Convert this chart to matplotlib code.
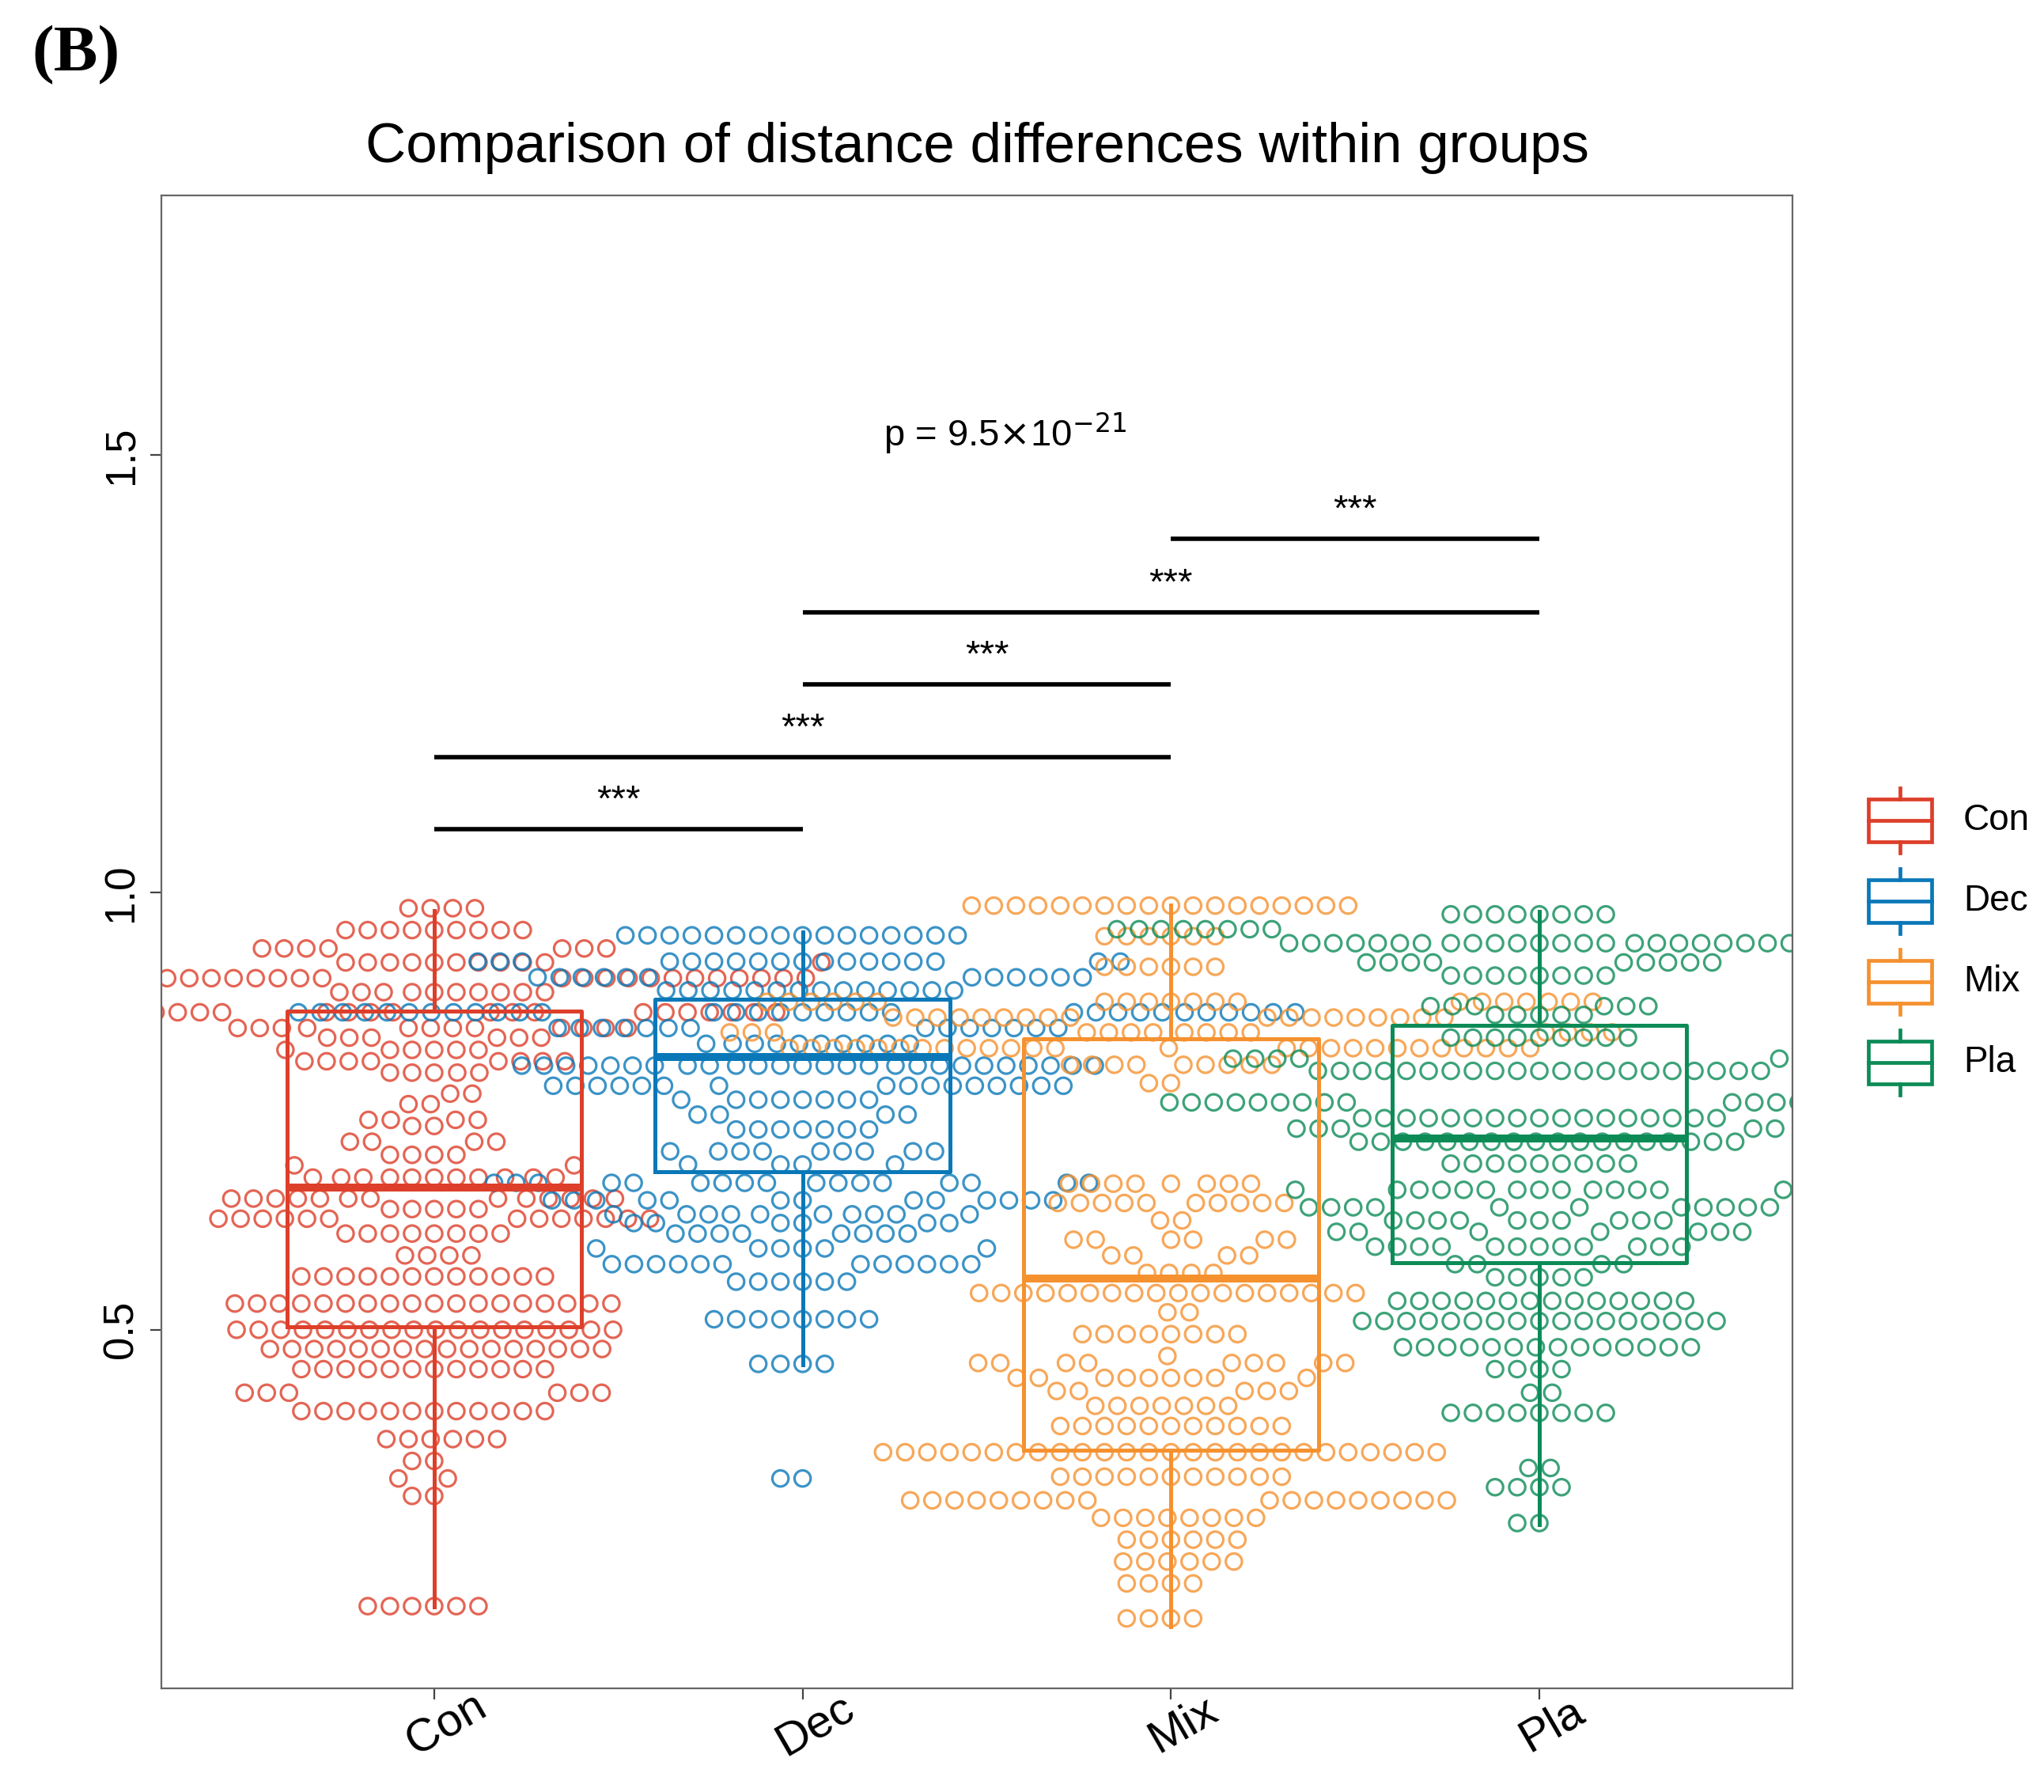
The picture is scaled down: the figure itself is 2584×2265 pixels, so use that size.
import numpy as np
import matplotlib
matplotlib.use("Agg")
import matplotlib.pyplot as plt
from matplotlib.patches import Rectangle
from matplotlib.transforms import ScaledTranslation, blended_transform_factory

plt.rcParams["font.family"] = ["Liberation Sans", "DejaVu Sans"]

groups = ["Con", "Dec", "Mix", "Pla"]
colors = ["#DD3F2A", "#0A78B8", "#F5912F", "#0C8B57"]

# swarm rows: value and number of points at that value
con_levels = [0.982, 0.957, 0.936, 0.920, 0.902, 0.886, 0.863, 0.845, 0.834, 0.820,
              0.807, 0.794, 0.770, 0.758, 0.740, 0.733, 0.715, 0.700, 0.688, 0.674,
              0.650, 0.638, 0.627, 0.610, 0.585, 0.561, 0.530, 0.500, 0.478, 0.455,
              0.428, 0.407, 0.375, 0.350, 0.330, 0.310, 0.184]
con_counts = [4, 9, 7, 11, 25, 10, 21, 12, 6, 6,
              8, 5, 2, 2, 4, 2, 4, 4, 2, 11,
              13, 5, 13, 8, 4, 12, 18, 18, 16, 12,
              6, 12, 6, 2, 2, 2, 6]

dec_levels = [0.951, 0.921, 0.903, 0.888, 0.863, 0.845, 0.827, 0.802, 0.779, 0.763,
              0.746, 0.729, 0.704, 0.689, 0.668, 0.648, 0.632, 0.622, 0.610, 0.593,
              0.575, 0.555, 0.512, 0.461, 0.330]
dec_counts = [16, 18, 12, 14, 32, 14, 10, 26, 16, 8,
              4, 7, 9, 4, 17, 13, 10, 6, 8, 6,
              12, 6, 8, 4, 2]

mix_levels = [0.985, 0.950, 0.915, 0.875, 0.857, 0.840, 0.822, 0.803, 0.782, 0.667,
              0.645, 0.625, 0.603, 0.585, 0.565, 0.542, 0.520, 0.495, 0.470, 0.462,
              0.445, 0.430, 0.413, 0.390, 0.360, 0.332, 0.305, 0.285, 0.260, 0.235,
              0.210, 0.170]
mix_counts = [18, 6, 6, 20, 18, 15, 26, 9, 2, 8,
              10, 2, 6, 4, 4, 18, 2, 8, 1, 9,
              9, 5, 7, 11, 26, 11, 18, 8, 6, 6,
              4, 4]

pla_levels = [0.975, 0.958, 0.942, 0.920, 0.905, 0.870, 0.860, 0.834, 0.810, 0.796,
              0.760, 0.742, 0.730, 0.715, 0.690, 0.660, 0.640, 0.625, 0.612, 0.595,
              0.575, 0.560, 0.533, 0.510, 0.480, 0.455, 0.428, 0.405, 0.342, 0.320,
              0.279]
pla_counts = [8, 15, 23, 9, 8, 6, 5, 9, 7, 21,
              18, 17, 5, 18, 9, 14, 11, 10, 7, 12,
              4, 5, 14, 17, 14, 4, 2, 8, 2, 4,
              2]

# box statistics
box_low = [0.183, 0.460, 0.161, 0.277]
box_q1 = [0.503, 0.681, 0.362, 0.577]
box_med = [0.663, 0.812, 0.559, 0.719]
box_q3 = [0.864, 0.878, 0.833, 0.848]
box_high = [0.979, 0.955, 0.986, 0.978]

# significance brackets
pair_from = [1, 1, 2, 2, 3]
pair_to = [2, 3, 3, 4, 4]
pair_y = [1.072, 1.155, 1.238, 1.320, 1.404]
pair_label = ["***", "***", "***", "***", "***"]
p_label = r"p = 9.5$\times$10$^{-21}$"

levels = [con_levels, dec_levels, mix_levels, pla_levels]
counts = [con_counts, dec_counts, mix_counts, pla_counts]

W, H = 2584, 2265
XLIM = (0.2594, 4.687)
YLIM = (0.090, 1.797)


def swarm(y_px, d):
    """beeswarm-like placement: lowest value first, closest free spot to the centre"""
    order = np.argsort(y_px, kind="stable")
    xs = np.zeros(len(y_px))
    px, py = [], []
    for i in order:
        yi = y_px[i]
        if px:
            ax_ = np.asarray(px)
            ay_ = np.asarray(py)
            near = np.abs(ay_ - yi) < d
            nx, ny = ax_[near], ay_[near]
            dx = np.sqrt(d * d - (ny - yi) ** 2)
            cands = np.concatenate([[0.0], nx - dx, nx + dx])
        else:
            nx = ny = np.array([])
            cands = np.array([0.0])
        cands = cands[np.lexsort((cands, np.abs(cands)))]
        for c in cands:
            if nx.size == 0 or np.all((nx - c) ** 2 + (ny - yi) ** 2 >= d * d - 1e-6):
                xs[i] = c
                break
        px.append(xs[i])
        py.append(yi)
    return xs


fig = plt.figure(figsize=(W / 100, H / 100), dpi=100)
ax = fig.add_axes([204 / W, 1 - 2134 / H, 2062 / W, 1887 / H])
ax.set_xlim(*XLIM)
ax.set_ylim(*YLIM)

sx = 2062 / (XLIM[1] - XLIM[0])
sy = 1887 / (YLIM[1] - YLIM[0])
spacing = 28.0

for gi, (lv, ct, col) in enumerate(zip(levels, counts, colors)):
    y = np.repeat(np.asarray(lv, dtype=float), ct)
    off = swarm(y * sy, spacing)
    ax.scatter(gi + 1 + off / sx, y, s=215, facecolors="none", edgecolors=col,
               linewidths=2.3, alpha=0.8, zorder=2)

for gi, col in enumerate(colors):
    stats = [dict(med=box_med[gi], q1=box_q1[gi], q3=box_q3[gi],
                  whislo=box_low[gi], whishi=box_high[gi], fliers=[])]
    ax.bxp(stats, positions=[gi + 1], widths=0.8, showfliers=False, showcaps=False,
           manage_ticks=False,
           boxprops=dict(color=col, linewidth=3.6),
           whiskerprops=dict(color=col, linewidth=3.6),
           medianprops=dict(color=col, linewidth=7.2, solid_capstyle="butt"),
           zorder=3)

for a, b, yv, lab in zip(pair_from, pair_to, pair_y, pair_label):
    ax.plot([a, b], [yv, yv], color="black", linewidth=4.0, solid_capstyle="butt", zorder=4)
    ax.text((a + b) / 2, yv + 0.012, lab, ha="center", va="bottom", fontsize=34, zorder=4)

ax.text(2.55, 1.525, p_label, ha="center", va="center", fontsize=34)

ax.set_xticks([1, 2, 3, 4])
ax.set_xticklabels([])
lab_tr = blended_transform_factory(ax.transData, ax.transAxes) + \
    ScaledTranslation(0.16, 0, fig.dpi_scale_trans)
for gi, name in enumerate(groups):
    ax.text(gi + 1, -0.0245, name, transform=lab_tr, rotation=30,
            ha="center", va="center", fontsize=42)
ax.set_yticks([0.5, 1.0, 1.5])
ax.set_yticklabels(["0.5", "1.0", "1.5"], rotation=90, va="center", fontsize=38)
ax.tick_params(axis="both", length=10, width=1.6, color="#444444", pad=8)
for sp in ax.spines.values():
    sp.set_color("#666666")
    sp.set_linewidth(1.6)

fig.text(1235 / W, 1 - 187 / H, "Comparison of distance differences within groups",
         ha="center", va="center", fontsize=51)
fig.text(96 / W, 1 - 70 / H, "(B)", ha="center", va="center", fontsize=60,
         fontweight="bold", family=["Liberation Serif", "DejaVu Serif"])

# legend drawn in pixel coordinates
ov = fig.add_axes([0, 0, 1, 1])
ov.set_xlim(0, W)
ov.set_ylim(H, 0)
ov.axis("off")
for i, (name, col) in enumerate(zip(groups, colors)):
    cy = 1037 + i * 102
    ov.add_patch(Rectangle((2362, cy - 27), 80, 54, fill=False, edgecolor=col, linewidth=3.4))
    ov.plot([2362, 2442], [cy, cy], color=col, linewidth=3.4)
    ov.plot([2402, 2402], [cy - 41, cy - 27], color=col, linewidth=3.4)
    ov.plot([2402, 2402], [cy + 27, cy + 41], color=col, linewidth=3.4)
    ov.text(2482, cy, name, ha="left", va="center", fontsize=33)

fig.savefig("out.png", dpi=100)
